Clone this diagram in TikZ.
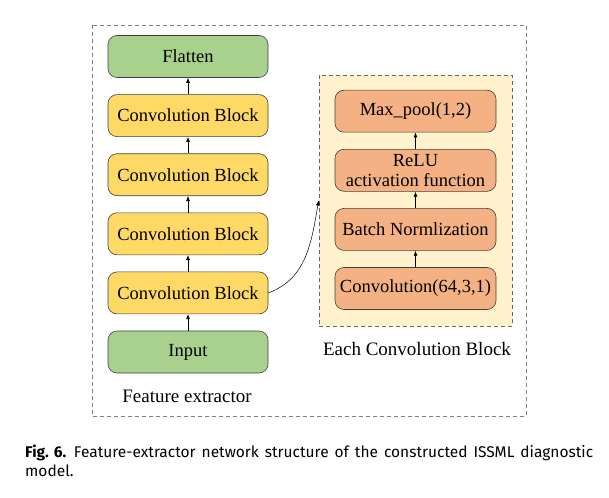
\documentclass[tikz,border=0pt]{standalone}
\usepackage{fontspec}
\setmainfont{Liberation Serif}
\newfontfamily\capfont{Fira Sans}
\usetikzlibrary{arrows.meta}
\usetikzlibrary{positioning}

\definecolor{boxgreen}{HTML}{A9D18E}
\definecolor{boxyellow}{HTML}{FFD966}
\definecolor{boxorange}{HTML}{F4B183}
\definecolor{blockbg}{HTML}{FFF2CC}

\tikzset{
	layer/.style={draw=black!75, line width=0.6pt, rounded corners=9pt, minimum width=160pt, minimum height=42pt, inner sep=0pt, align=center, font=\fontsize{18.5}{21}\selectfont},
	label text/.style={inner sep=0pt, font=\fontsize{19}{21}\selectfont},
}

\begin{document}
\begin{tikzpicture}[>={Latex[width=4pt,length=5pt]}, x=1pt, y=-1pt, node distance=16.5pt]
	\useasboundingbox (0,0) rectangle (609,497);
	\draw [black!50, line width=0.6pt, dash pattern=on 4pt off 3pt] (92,25) rectangle (526,416);
	\node (blk) [draw=black!60, line width=0.6pt, fill=blockbg, dash pattern=on 4pt off 3pt, minimum width=193pt, minimum height=251pt, inner sep=0pt] at (415.5,200.5) {};
	% feature extractor
	\node (in) [layer, fill=boxgreen] at (188,352) {Input};
	\node (c1) [layer, fill=boxyellow, above=of in] {Convolution Block};
	\node (c2) [layer, fill=boxyellow, above=of c1] {Convolution Block};
	\node (c3) [layer, fill=boxyellow, above=of c2] {Convolution Block};
	\node (c4) [layer, fill=boxyellow, above=of c3] {Convolution Block};
	\node (flat) [layer, fill=boxgreen, above=of c4] {Flatten};
	\draw [->, line width=0.6pt] (in) -- (c1);
	\draw [->, line width=0.6pt] (c1) -- (c2);
	\draw [->, line width=0.6pt] (c2) -- (c3);
	\draw [->, line width=0.6pt] (c3) -- (c4);
	\draw [->, line width=0.6pt] (c4) -- (flat);
	% each convolution block
	\node (conv) [layer, fill=boxorange, minimum width=161pt] at (415.5,288.5) {Convolution(64,3,1)};
	\node (bn) [layer, fill=boxorange, minimum width=161pt, above=of conv] {Batch Normlization};
	\node (relu) [layer, fill=boxorange, minimum width=161pt, above=of bn] {ReLU\\[-1pt]activation function};
	\node (mp) [layer, fill=boxorange, minimum width=161pt, above=of relu] {Max\_pool(1,2)};
	\draw [->, line width=0.6pt] (conv) -- (bn);
	\draw [->, line width=0.6pt] (bn) -- (relu);
	\draw [->, line width=0.6pt] (relu) -- (mp);
	\draw [->, line width=0.5pt] (c1.east) to [out=20, in=-100] (blk.west);
	\node (fe) [label text] at (187,396) {Feature extractor};
	\node (ecb) [label text] at (417,349) {Each Convolution Block};
	% caption
	\node (cap) [anchor=north west, text width=568pt, align=justify, inner sep=0pt, font=\capfont\fontsize{15.5}{19}\selectfont] at (25,445) {\hyphenpenalty=10000 \hbox{\textbf{Fig. 6.}}\enspace Feature-extractor network structure of the constructed ISSML diagnostic\linebreak model.};
\end{tikzpicture}
\end{document}
